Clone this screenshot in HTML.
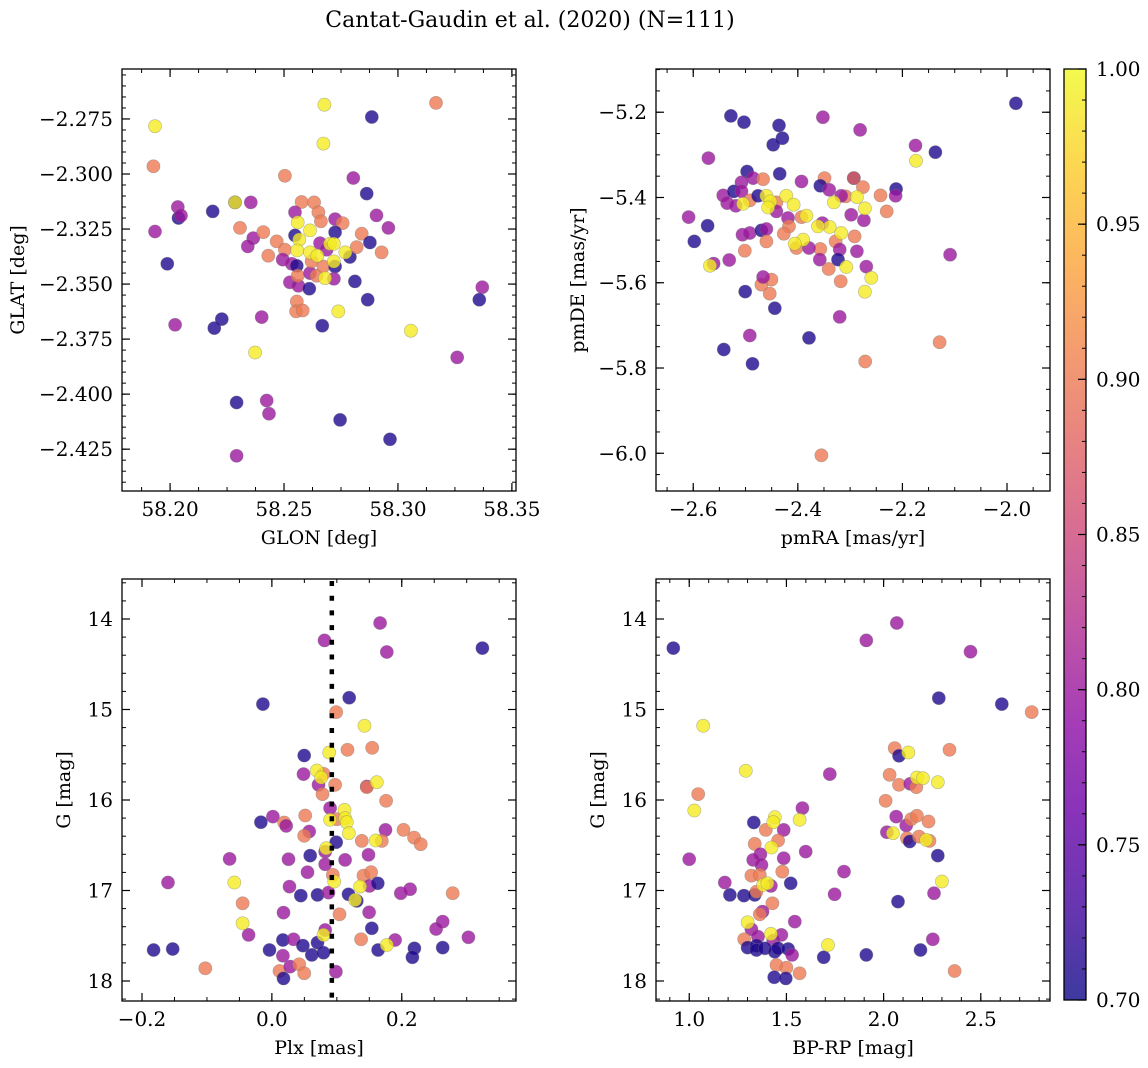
<!DOCTYPE html>
<html><head><meta charset="utf-8"><style>
html,body{margin:0;padding:0;background:#fff;}
svg{display:block;font-family:"DejaVu Serif","Liberation Serif",serif;}
</style></head><body>
<svg id="fig" width="1148" height="1068" viewBox="0 0 1148 1068" xmlns="http://www.w3.org/2000/svg">
<defs>
<linearGradient id="plasma" x1="0" y1="1" x2="0" y2="0">
<stop offset="0" stop-color="#0d0887"/><stop offset="0.1" stop-color="#41049d"/><stop offset="0.2" stop-color="#6a00a8"/><stop offset="0.3" stop-color="#8f0da4"/><stop offset="0.4" stop-color="#b12a90"/><stop offset="0.5" stop-color="#cc4778"/><stop offset="0.6" stop-color="#e16462"/><stop offset="0.7" stop-color="#f2844b"/><stop offset="0.8" stop-color="#fca636"/><stop offset="0.9" stop-color="#fcce25"/><stop offset="1" stop-color="#f0f921"/>
</linearGradient>
</defs>
<text x="530" y="27" text-anchor="middle" font-size="22">Cantat-Gaudin et al. (2020) (N=111)</text>
</svg>
<script>
// ---- Panel 1: GLON vs GLAT ----
const p1Glon=[58.1934,58.2677,58.3167,58.2885,58.2673,58.1927,58.2504,58.2804,58.2863,58.2285,58.2285,58.2354,58.2187,58.2034,58.2037,58.2048,58.1934,58.2307,58.2365,58.2341,58.2409,58.1988,58.2468,58.2504,58.2431,58.2494,58.2534,58.2556,58.2526,58.2563,58.2560,58.2611,58.2577,58.2632,58.2651,58.2662,58.2548,58.2548,58.2658,58.2687,58.2614,58.2643,58.2621,58.2673,58.2724,58.2757,58.2724,58.2789,58.2724,58.2719,58.2811,58.2841,58.2877,58.2819,58.2928,58.2906,58.2958,58.2556,58.2553,58.2582,58.2867,58.2668,58.2402,58.2227,58.2194,58.2022,58.3370,58.3357,58.3260,58.2292,58.2424,58.2434,58.2746,58.2965,58.2292,58.2560,58.2614,58.2567,58.2558,58.2614,58.2646,58.2702,58.2719,58.2769,58.2719,58.2680,58.2738,58.3057,58.2373];
const p1Glat=[-2.2783,-2.2685,-2.2677,-2.2741,-2.2862,-2.2965,-2.3008,-2.3018,-2.3089,-2.3129,-2.3129,-2.3129,-2.3170,-2.3150,-2.3200,-2.3189,-2.3261,-2.3245,-2.3291,-2.3329,-2.3264,-2.3408,-2.3306,-2.3344,-2.3371,-2.3389,-2.3408,-2.3417,-2.3492,-2.3508,-2.3462,-2.3521,-2.3127,-2.3129,-2.3174,-2.3215,-2.3174,-2.3279,-2.3314,-2.3344,-2.3450,-2.3462,-2.3397,-2.3420,-2.3205,-2.3223,-2.3265,-2.3377,-2.3420,-2.3476,-2.3488,-2.3271,-2.3311,-2.3332,-2.3356,-2.3188,-2.3245,-2.3579,-2.3624,-2.3620,-2.3571,-2.3689,-2.3650,-2.3659,-2.3700,-2.3685,-2.3514,-2.3571,-2.3833,-2.4038,-2.4029,-2.4089,-2.4117,-2.4205,-2.4280,-2.3220,-2.3256,-2.3298,-2.3347,-2.3356,-2.3371,-2.3317,-2.3317,-2.3356,-2.3397,-2.3473,-2.3624,-2.3712,-2.3811];
const p1Prob=[0.99,0.99,0.90,0.71,0.99,0.90,0.90,0.80,0.71,0.71,0.99,0.80,0.71,0.80,0.71,0.80,0.80,0.90,0.80,0.80,0.90,0.71,0.90,0.90,0.90,0.80,0.80,0.71,0.80,0.80,0.90,0.71,0.90,0.90,0.90,0.90,0.80,0.71,0.80,0.80,0.80,0.90,0.90,0.90,0.80,0.90,0.71,0.71,0.71,0.80,0.71,0.90,0.71,0.90,0.90,0.80,0.80,0.90,0.90,0.90,0.71,0.71,0.80,0.71,0.71,0.80,0.80,0.71,0.80,0.71,0.80,0.80,0.71,0.71,0.80,0.99,0.99,0.99,0.99,0.99,0.99,0.99,0.99,0.99,0.99,0.99,0.99,0.99,0.99];
const p1XTicks=[58.20,58.25,58.30,58.35];
const p1YTicks=[-2.275,-2.300,-2.325,-2.350,-2.375,-2.400,-2.425];

// ---- Panel 2: pmRA vs pmDE ----
const p2PmRA=[-1.983,-2.528,-2.503,-2.436,-2.4295,-2.447,-2.352,-2.281,-2.175,-2.137,-2.571,-2.497,-2.4346,-2.4855,-2.4664,-2.5077,-2.393,-2.349,-2.357,-2.340,-2.293,-2.293,-2.2755,-2.212,-2.213,-2.242,-2.230,-2.3086,-2.317,-2.298,-2.2736,-2.2914,-2.353,-2.3277,-2.320,-2.3232,-2.357,-2.358,-2.341,-2.287,-2.269,-2.318,-2.320,-2.3786,-2.129,-2.2711,-2.1088,-2.355,-2.5415,-2.4867,-2.4918,-2.4441,-2.4537,-2.4696,-2.4505,-2.4664,-2.5007,-2.5014,-2.5313,-2.561,-2.598,-2.6089,-2.5726,-2.5427,-2.5224,-2.535,-2.5186,-2.5077,-2.4918,-2.476,-2.5058,-2.4918,-2.4696,-2.460,-2.460,-2.441,-2.441,-2.4187,-2.4168,-2.4269,-2.393,-2.4026,-2.3786,-2.174,-2.287,-2.331,-2.2717,-2.317,-2.339,-2.3614,-2.3073,-2.2596,-2.2717,-2.568,-2.5046,-2.460,-2.4524,-2.4568,-2.422,-2.408,-2.3837,-2.39,-2.406];
const p2PmDE=[-5.179,-5.2086,-5.2234,-5.231,-5.261,-5.2765,-5.2117,-5.2414,-5.278,-5.2937,-5.3077,-5.339,-5.3444,-5.3546,-5.357,-5.3647,-5.3624,-5.3546,-5.3725,-5.3819,-5.3546,-5.3546,-5.3756,-5.380,-5.396,-5.3952,-5.4326,-5.3975,-5.396,-5.4405,-5.4536,-5.4912,-5.46,-5.503,-5.522,-5.5458,-5.5208,-5.5458,-5.5677,-5.5263,-5.5622,-5.5965,-5.680,-5.7293,-5.7394,-5.7847,-5.5341,-6.0048,-5.7566,-5.7902,-5.7238,-5.6598,-5.6254,-5.6044,-5.5927,-5.5864,-5.6208,-5.5248,-5.5467,-5.555,-5.5029,-5.4459,-5.4662,-5.3952,-5.3858,-5.4132,-5.4194,-5.3856,-5.4068,-5.396,-5.4873,-5.4834,-5.4771,-5.474,-5.503,-5.4116,-5.4326,-5.448,-5.4678,-5.4849,-5.4459,-5.5185,-5.5185,-5.314,-5.399,-5.4116,-5.4256,-5.4834,-5.4693,-5.4678,-5.563,-5.5887,-5.6211,-5.5599,-5.4147,-5.396,-5.4092,-5.4236,-5.396,-5.417,-5.4428,-5.4991,-5.5084];
const p2Prob=[0.71,0.71,0.71,0.71,0.71,0.71,0.80,0.80,0.80,0.71,0.80,0.71,0.71,0.80,0.90,0.80,0.80,0.90,0.71,0.80,0.71,0.88,0.90,0.71,0.80,0.90,0.90,0.90,0.80,0.80,0.80,0.90,0.80,0.90,0.80,0.71,0.90,0.80,0.90,0.80,0.80,0.90,0.80,0.71,0.90,0.90,0.80,0.90,0.71,0.71,0.80,0.71,0.90,0.90,0.90,0.80,0.71,0.90,0.80,0.80,0.71,0.80,0.71,0.80,0.71,0.80,0.80,0.80,0.90,0.71,0.80,0.80,0.71,0.80,0.90,0.90,0.80,0.80,0.90,0.90,0.90,0.90,0.80,0.99,0.99,0.99,0.99,0.99,0.99,0.99,0.99,0.99,0.99,0.99,0.99,0.99,0.99,0.99,0.99,0.99,0.99,0.99,0.99];
const p2XTicks=[-2.6,-2.4,-2.2,-2.0];
const p2YTicks=[-5.2,-5.4,-5.6,-5.8,-6.0];

// ---- Panel 3: Plx vs G ----
const p3Plx=[0.1667,0.081,0.1769,0.3241,-0.0138,0.119,0.099,0.1164,0.1544,0.0497,0.0487,0.0795,0.0718,0.0974,0.0779,0.1462,0.1462,0.1759,0.0897,0.1,0.0513,0.0015,-0.0169,0.019,0.0221,0.0574,0.0497,0.1749,0.2026,0.2190,0.2292,0.1385,0.1692,0.099,0.0821,0.059,0.1487,0.1128,0.0256,-0.0651,0.0821,0.0549,0.0938,0.141,0.1528,0.1503,0.1631,-0.16,0.0272,0.0446,0.0703,0.0872,0.1179,0.1308,0.1985,0.2128,0.2785,-0.0451,0.0179,0.1041,0.1497,-0.0359,0.1538,0.0821,0.2631,0.2528,0.3026,0.0169,0.0333,0.0477,0.0703,-0.0036,0.0169,0.0615,0.0795,-0.1821,-0.1528,0.1374,0.1897,0.1636,0.2195,0.2164,0.2631,-0.1026,0.0118,0.0282,0.0421,0.0497,0.0179,0.0985,0.1426,0.0882,0.0692,0.0759,0.1615,0.1118,0.1128,0.1154,0.0897,0.1185,0.16,0.0836,0.0959,0.1359,-0.0579,0.1282,-0.0451,0.0795,0.1769];
const p3G=[14.044,14.236,14.365,14.321,14.940,14.870,15.029,15.445,15.423,15.508,15.714,15.711,15.832,15.832,15.935,15.851,15.858,16.009,16.090,16.212,16.171,16.183,16.245,16.249,16.286,16.348,16.396,16.330,16.330,16.415,16.488,16.452,16.452,16.466,16.570,16.614,16.606,16.662,16.654,16.651,16.710,16.798,16.828,16.835,16.798,16.949,16.920,16.912,16.957,17.056,17.049,17.023,17.042,17.115,17.030,16.986,17.030,17.141,17.244,17.263,17.241,17.491,17.418,17.436,17.344,17.425,17.517,17.547,17.539,17.609,17.576,17.657,17.720,17.712,17.687,17.657,17.646,17.539,17.547,17.657,17.639,17.738,17.631,17.860,17.889,17.841,17.816,17.915,17.971,17.897,15.180,15.475,15.674,15.751,15.803,16.109,16.201,16.245,16.219,16.367,16.448,16.533,16.901,16.957,16.912,17.104,17.362,17.491,17.602];
const p3Prob=[0.80,0.80,0.80,0.71,0.71,0.71,0.90,0.90,0.90,0.71,0.80,0.90,0.80,0.90,0.90,0.80,0.90,0.90,0.80,0.90,0.90,0.80,0.71,0.90,0.80,0.80,0.90,0.80,0.90,0.90,0.90,0.90,0.90,0.71,0.80,0.71,0.80,0.80,0.80,0.80,0.80,0.80,0.90,0.90,0.90,0.80,0.71,0.80,0.80,0.71,0.71,0.80,0.71,0.71,0.80,0.80,0.90,0.90,0.80,0.90,0.80,0.80,0.71,0.80,0.80,0.80,0.80,0.71,0.80,0.71,0.71,0.71,0.80,0.71,0.71,0.71,0.71,0.90,0.80,0.71,0.71,0.71,0.71,0.90,0.90,0.80,0.90,0.90,0.71,0.80,0.99,0.99,0.99,0.99,0.99,0.99,0.99,0.99,0.99,0.99,0.99,0.99,0.99,0.99,0.99,0.99,0.99,0.99,0.99];
const p3XTicks=[-0.2,0.0,0.2];
const p3YTicks=[14,15,16,17,18];
const p3ClusterPlx=[0.0923];

// ---- Panel 4: BP-RP vs G ----
const p4BpRp=[0.918,2.068,1.911,2.447,2.284,2.608,2.762,2.057,2.079,2.339,1.723,2.031,2.079,2.137,2.168,1.046,2.010,1.582,2.065,2.116,2.142,2.171,2.231,2.017,2.120,2.134,2.182,2.236,2.279,1.332,1.394,1.486,1.457,1.337,1.366,1.329,1.372,1.486,1.599,1.0,1.320,1.363,1.479,1.796,1.183,1.209,1.281,1.337,1.346,1.420,1.522,1.748,2.074,2.259,1.428,1.377,1.363,1.543,1.320,1.283,1.354,1.432,1.474,1.300,1.346,1.346,1.389,1.440,1.457,1.509,1.529,1.692,1.911,2.190,2.253,2.365,1.449,1.500,1.568,1.437,1.497,1.072,2.127,1.291,2.171,2.202,2.279,1.026,2.048,2.219,1.440,1.432,1.568,1.423,1.380,1.402,2.300,1.300,1.420,1.714];
const p4G=[14.321,14.044,14.236,14.361,14.874,14.940,15.029,15.427,15.512,15.445,15.714,15.722,15.832,15.821,15.858,15.935,16.009,16.090,16.183,16.282,16.212,16.175,16.238,16.356,16.422,16.459,16.404,16.452,16.614,16.249,16.330,16.330,16.448,16.485,16.599,16.662,16.717,16.643,16.570,16.654,16.835,16.828,16.791,16.791,16.912,17.049,17.056,17.049,17.012,16.949,16.920,17.042,17.123,17.030,17.141,17.233,17.263,17.344,17.429,17.539,17.510,17.554,17.491,17.631,17.609,17.657,17.639,17.676,17.639,17.646,17.712,17.738,17.712,17.657,17.539,17.889,17.823,17.853,17.915,17.959,17.971,15.180,15.475,15.677,15.751,15.759,15.803,16.116,16.367,16.441,16.190,16.245,16.219,16.525,16.938,16.920,16.901,17.351,17.480,17.602];
const p4Prob=[0.71,0.80,0.80,0.80,0.71,0.71,0.90,0.90,0.71,0.90,0.80,0.90,0.90,0.80,0.90,0.90,0.90,0.80,0.80,0.80,0.90,0.90,0.90,0.80,0.90,0.71,0.90,0.90,0.71,0.71,0.90,0.80,0.90,0.90,0.80,0.80,0.80,0.80,0.80,0.80,0.90,0.90,0.90,0.80,0.80,0.71,0.71,0.71,0.90,0.80,0.71,0.80,0.71,0.80,0.90,0.80,0.90,0.80,0.80,0.90,0.80,0.80,0.80,0.71,0.71,0.71,0.71,0.71,0.71,0.71,0.80,0.71,0.71,0.71,0.80,0.90,0.90,0.90,0.90,0.71,0.71,0.99,0.99,0.99,0.99,0.99,0.99,0.99,0.99,0.99,0.99,0.99,0.99,0.99,0.99,0.99,0.99,0.99,0.99,0.99];
const p4XTicks=[1.0,1.5,2.0,2.5];
const p4YTicks=[14,15,16,17,18];

// ---- Colorbar ----
const cbTicks=[0.70,0.75,0.80,0.85,0.90,0.95,1.00];
const cbRange=[0.70,1.00];

const NS="http://www.w3.org/2000/svg";
const svg=document.getElementById('fig');
function mk(tag,attrs,parent){const e=document.createElementNS(NS,tag);for(const k in attrs)e.setAttribute(k,attrs[k]);(parent||svg).appendChild(e);return e;}

const stops=[[0,[13,8,135]],[0.1,[65,4,157]],[0.2,[106,0,168]],[0.3,[143,13,164]],[0.4,[177,42,144]],[0.5,[204,71,120]],[0.6,[225,100,98]],[0.7,[242,132,75]],[0.8,[252,166,54]],[0.9,[252,206,37]],[1,[240,249,33]]];
function plasma(t){t=Math.max(0,Math.min(1,t));for(let i=1;i<stops.length;i++){if(t<=stops[i][0]){const a=stops[i-1],b=stops[i];const f=(t-a[0])/(b[0]-a[0]);const c=a[1].map((v,j)=>Math.round(v+(b[1][j]-v)*f));return `rgb(${c[0]},${c[1]},${c[2]})`;}}return 'rgb(240,249,33)';}
function fmt(v,d){return v.toFixed(d).replace('-','\u2212');}

const TICK_FS=20, LABEL_FS=19;

function panel(cfg){
  const g=mk('g',{});
  
  
  const {x0,x1,y0,y1,xd,yd}=cfg;
  const sx=v=>x0+(v-xd[0])/(xd[1]-xd[0])*(x1-x0);
  const sy=v=>y0+(v-yd[0])/(yd[1]-yd[0])*(y1-y0);
  const pg=mk('g',{},g);
  for(let i=0;i<cfg.xs.length;i++){
    const c=mk('circle',{cx:sx(cfg.xs[i]).toFixed(1),cy:sy(cfg.ys[i]).toFixed(1),r:6.6,fill:plasma((cfg.cs[i]-cbRange[0])/(cbRange[1]-cbRange[0])),'fill-opacity':0.8,stroke:'#777','stroke-opacity':0.5,'stroke-width':0.6},pg);
    
    
  }
  if(cfg.vline){cfg.vline.forEach(v=>{const l=mk('line',{x1:sx(v),x2:sx(v),y1:y0+2,y2:y1,stroke:'#000','stroke-width':4.5,'stroke-dasharray':'5 9.7'},g);
    
    });}
  const fr=mk('rect',{x:x0,y:y0,width:x1-x0,height:y1-y0,fill:'none',stroke:'#000','stroke-width':1.3},g);
  
  
  const lo=Math.min(xd[0],xd[1]),hi=Math.max(xd[0],xd[1]);
  for(let v=Math.ceil(lo/cfg.xmin-1e-6)*cfg.xmin;v<=hi+1e-9;v+=cfg.xmin){const X=sx(v);mk('line',{x1:X,x2:X,y1:y1,y2:y1-4,stroke:'#000','stroke-width':1},g);mk('line',{x1:X,x2:X,y1:y0,y2:y0+4,stroke:'#000','stroke-width':1},g);}
  const ylo=Math.min(yd[0],yd[1]),yhi=Math.max(yd[0],yd[1]);
  for(let v=Math.ceil(ylo/cfg.ymin-1e-6)*cfg.ymin;v<=yhi+1e-9;v+=cfg.ymin){const Y=sy(v);mk('line',{x1:x0,x2:x0+4,y1:Y,y2:Y,stroke:'#000','stroke-width':1},g);mk('line',{x1:x1,x2:x1-4,y1:Y,y2:Y,stroke:'#000','stroke-width':1},g);}
  cfg.xt.forEach(v=>{const X=sx(v);mk('line',{x1:X,x2:X,y1:y1,y2:y1-8,stroke:'#000','stroke-width':1.2},g);mk('line',{x1:X,x2:X,y1:y0,y2:y0+8,stroke:'#000','stroke-width':1.2},g);
    const t=mk('text',{x:X,y:y1+25,'text-anchor':'middle','font-size':TICK_FS},g);t.textContent=fmt(v,cfg.xdec);
    
    });
  cfg.yt.forEach(v=>{const Y=sy(v);mk('line',{x1:x0,x2:x0+8,y1:Y,y2:Y,stroke:'#000','stroke-width':1.2},g);mk('line',{x1:x1,x2:x1-8,y1:Y,y2:Y,stroke:'#000','stroke-width':1.2},g);
    const t=mk('text',{x:x0-9,y:Y+7,'text-anchor':'end','font-size':TICK_FS},g);t.textContent=fmt(v,cfg.ydec);
    
    });
  const xl=mk('text',{x:(x0+x1)/2,y:y1+53,'text-anchor':'middle','font-size':LABEL_FS},g);xl.textContent=cfg.xlabel;
  
  
  const yl=mk('text',{x:cfg.ylx,y:(y0+y1)/2,'text-anchor':'middle','font-size':LABEL_FS,transform:`rotate(-90 ${cfg.ylx} ${(y0+y1)/2})`},g);yl.textContent=cfg.ylabel;
  
  
}

panel({name:'glon-glat-panel',x0:122,x1:516,y0:69,y1:491,xd:[58.1789,58.3518],yd:[-2.2523,-2.444],xs:p1Glon,ys:p1Glat,cs:p1Prob,xt:p1XTicks,yt:p1YTicks,xmin:0.0125,ymin:0.005,xdec:2,ydec:3,xlabel:'GLON [deg]',ylabel:'GLAT [deg]',ylx:24});
panel({name:'proper-motion-panel',x0:656,x1:1050,y0:69,y1:491,xd:[-2.6712,-1.9178],yd:[-5.0986,-6.0885],xs:p2PmRA,ys:p2PmDE,cs:p2Prob,xt:p2XTicks,yt:p2YTicks,xmin:0.05,ymin:0.05,xdec:1,ydec:1,xlabel:'pmRA [mas/yr]',ylabel:'pmDE [mas/yr]',ylx:584});
panel({name:'parallax-magnitude-panel',x0:122,x1:516,y0:579,y1:1001,xd:[-0.2308,0.3759],yd:[13.558,18.221],xs:p3Plx,ys:p3G,cs:p3Prob,xt:p3XTicks,yt:p3YTicks,xmin:0.05,ymin:0.2,xdec:1,ydec:0,xlabel:'Plx [mas]',ylabel:'G [mag]',ylx:70,vline:p3ClusterPlx});
panel({name:'color-magnitude-panel',x0:656,x1:1050,y0:579,y1:1001,xd:[0.829,2.856],yd:[13.558,18.221],xs:p4BpRp,ys:p4G,cs:p4Prob,xt:p4XTicks,yt:p4YTicks,xmin:0.1,ymin:0.2,xdec:1,ydec:0,xlabel:'BP-RP [mag]',ylabel:'G [mag]',ylx:604});

(function(){
  const cx0=1064,cx1=1086,cy0=69,cy1=1000;
  const g=mk('g',{});
  
  
  const r=mk('rect',{x:cx0,y:cy0,width:cx1-cx0,height:cy1-cy0,fill:'url(#plasma)','fill-opacity':0.8},g);
  
  
  mk('rect',{x:cx0,y:cy0,width:cx1-cx0,height:cy1-cy0,fill:'none',stroke:'#000','stroke-width':1.3},g);
  const sy=v=>cy1-(v-cbRange[0])/(cbRange[1]-cbRange[0])*(cy1-cy0);
  for(let v=cbRange[0];v<=cbRange[1]+1e-9;v+=0.01){const Y=sy(v);mk('line',{x1:cx1,x2:cx1-4,y1:Y,y2:Y,stroke:'#000','stroke-width':1},g);}
  cbTicks.forEach(v=>{const Y=sy(v);mk('line',{x1:cx1,x2:cx1-8,y1:Y,y2:Y,stroke:'#000','stroke-width':1.2},g);
    const t=mk('text',{x:cx1+10,y:Y+7,'font-size':TICK_FS},g);t.textContent=v.toFixed(2);
    
    });
})();
</script>
</body></html>
